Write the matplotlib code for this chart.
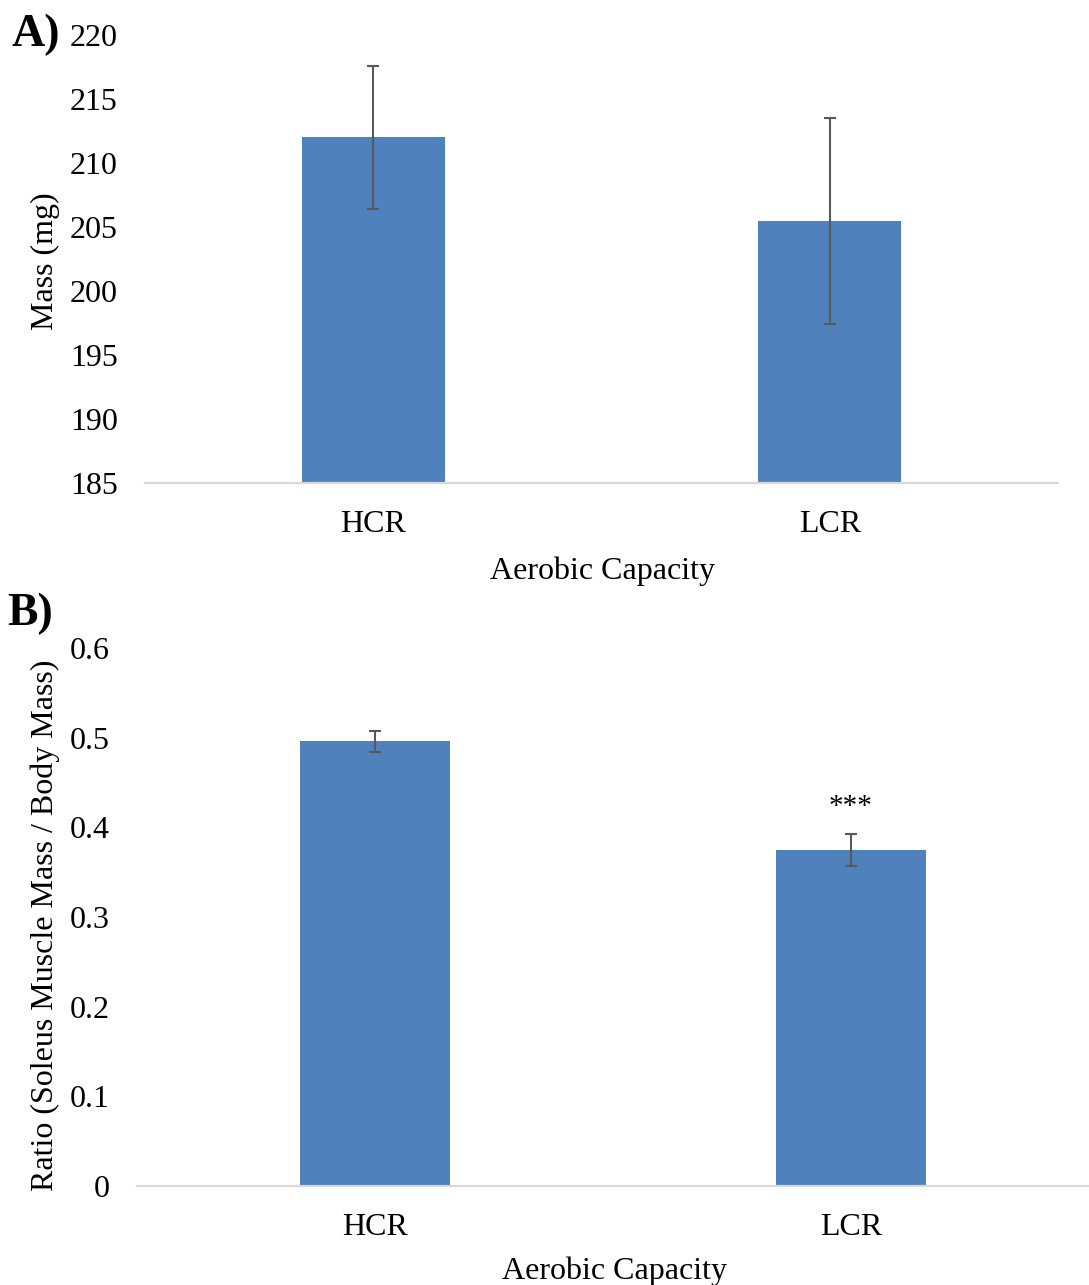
import matplotlib.pyplot as plt
import numpy as np

groups = ["HCR", "LCR"]
mass_mean = [212.0, 205.5]
mass_err = [5.55, 8.05]
ratio_mean = [0.496, 0.375]
ratio_err = [0.012, 0.018]

bar_color = "#4f81bd"
err_color = "#595959"
axis_color = "#d9d9d9"

plt.rcParams["font.family"] = ["Liberation Serif", "DejaVu Serif"]
plt.rcParams["font.size"] = 23

fig = plt.figure(figsize=(10.89, 12.85), dpi=100)


def style_axis(ax):
    for side in ["left", "right", "top"]:
        ax.spines[side].set_visible(False)
    ax.spines["bottom"].set_color(axis_color)
    ax.spines["bottom"].set_linewidth(1.6)
    ax.tick_params(axis="both", length=0)
    ax.tick_params(axis="y", pad=19.5)
    ax.tick_params(axis="x", pad=19.5)
    ax.set_xlim(-0.5, 1.5)


def place_labels(ax, xlab, ylab):
    ax.xaxis.label.set_verticalalignment("center")
    ax.yaxis.label.set_verticalalignment("center")
    ax.xaxis.set_label_coords(*xlab)
    ax.yaxis.set_label_coords(*ylab)


# panel A: absolute mass
ax1 = fig.add_axes([0.1332, 0.6241, 0.8384, 0.3486])
x = np.arange(len(groups))
ax1.bar(x, np.array(mass_mean) - 185, bottom=185, width=0.313, color=bar_color, zorder=2)
ax1.errorbar(x, mass_mean, yerr=mass_err, fmt="none", ecolor=err_color,
             elinewidth=1.5, capsize=4.5, capthick=1.5, zorder=3)
ax1.set_ylim(185, 220)
ax1.set_yticks(np.arange(185, 221, 5))
ax1.set_xticks(x)
ax1.set_xticklabels(groups)
style_axis(ax1)
ax1.set_ylabel("Mass (mg)")
ax1.set_xlabel("Aerobic Capacity")
place_labels(ax1, (0.5005, -0.196), (-0.1095, 0.495))
fig.text(0.011, 0.9725, "A)", fontsize=33, fontweight="bold", va="center", ha="left")

# panel B: soleus / body mass ratio
ax2 = fig.add_axes([0.1258, 0.0770, 0.8742, 0.4187])
ax2.bar(x, ratio_mean, width=0.315, color=bar_color, zorder=2)
ax2.errorbar(x, ratio_mean, yerr=ratio_err, fmt="none", ecolor=err_color,
             elinewidth=1.5, capsize=4.5, capthick=1.5, zorder=3)
ax2.set_ylim(0, 0.6)
ax2.set_yticks(np.round(np.arange(0, 0.61, 0.1), 1))
ax2.set_yticklabels(["0"] + [f"{v:.1f}" for v in np.arange(0.1, 0.61, 0.1)])
ax2.set_xticks(x)
ax2.set_xticklabels(groups)
style_axis(ax2)
ax2.set_ylabel("Ratio (Soleus Muscle Mass / Body Mass)")
ax2.set_xlabel("Aerobic Capacity")
place_labels(ax2, (0.502, -0.158), (-0.0966, 0.485))
ax2.text(1, ratio_mean[1] + ratio_err[1] + 0.015, "***", ha="center", va="bottom", fontsize=21)
fig.text(0.007, 0.522, "B)", fontsize=33, fontweight="bold", va="center", ha="left")

fig.savefig("out.png", dpi=100)
